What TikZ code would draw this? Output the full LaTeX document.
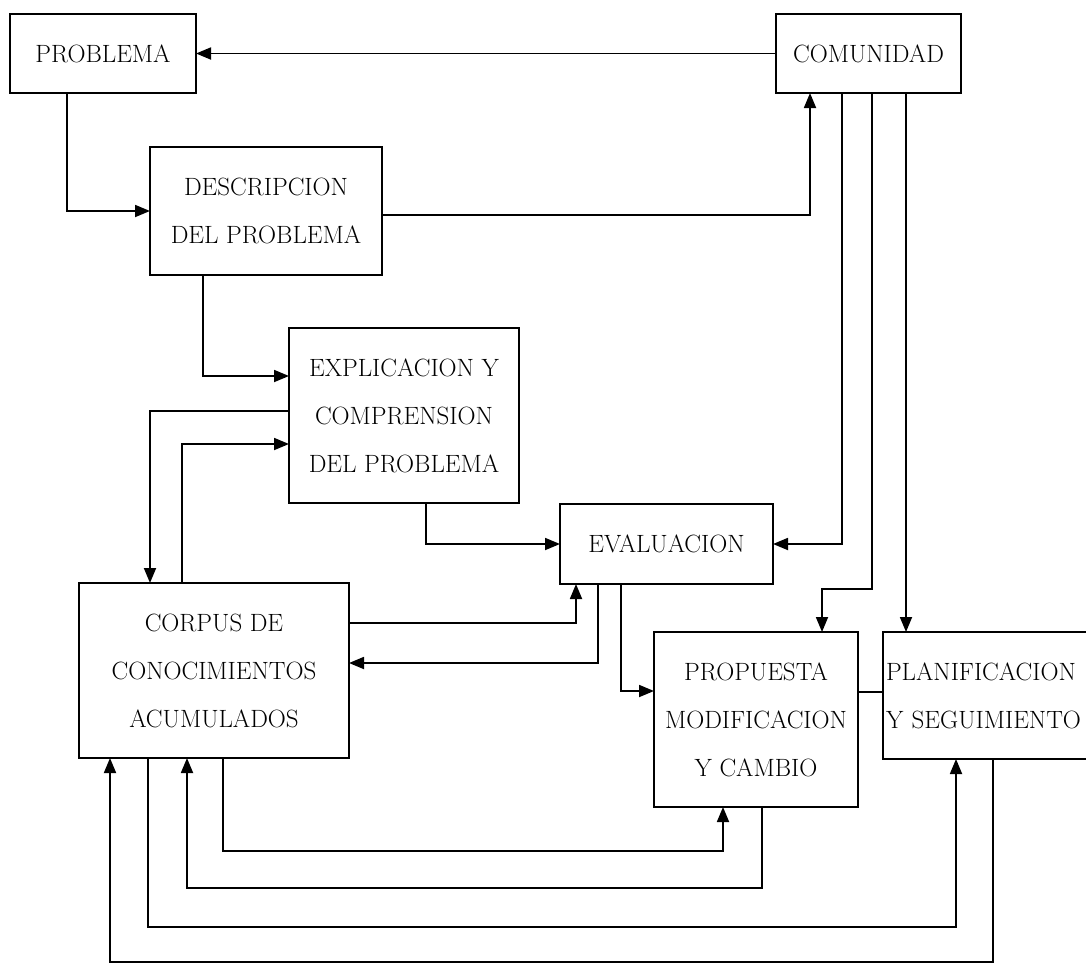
\documentclass[tikz,border=0pt]{standalone}
\usetikzlibrary{arrows.meta}
\begin{document}
\begin{tikzpicture}[x=1pt,y=-1pt,
  box/.style={draw, line width=2pt, inner sep=0pt, outer sep=0pt, align=center,
    font=\fontsize{25}{48}\selectfont},
  arr/.style={line width=1.8pt, -{Triangle[length=15pt,width=12pt]}},
  conn/.style={line width=1.8pt}]
\useasboundingbox (0,0) rectangle (1086,964);
\clip (0,0) rectangle (1086,964);

\node[box, minimum width=186pt, minimum height=79pt] (prob) at (103,53.5) {PROBLEMA};
\node[box, minimum width=185pt, minimum height=79pt] (comu) at (868.5,53.5) {COMUNIDAD};
\node[box, minimum width=232pt, minimum height=128pt] (desc) at (266,211) {DESCRIPCION\\DEL PROBLEMA};
\node[box, minimum width=230pt, minimum height=175pt] (expl) at (404,415.5) {EXPLICACION Y\\COMPRENSION\\DEL PROBLEMA};
\node[box, minimum width=213pt, minimum height=80pt] (eval) at (666.5,544) {EVALUACION};
\node[box, minimum width=270pt, minimum height=175pt] (corp) at (214,670.5) {CORPUS DE\\CONOCIMIENTOS\\ACUMULADOS};
\node[box, minimum width=204pt, minimum height=175pt] (prop) at (756,719.5) {PROPUESTA\\MODIFICACION\\Y CAMBIO};
\node[box, anchor=north west, align=left, inner xsep=3pt, text width=209pt, minimum height=127pt] (plan) at (883,632) {PLANIFICACION\\Y SEGUIMIENTO};

% top row
\draw[arr] (comu.west) -- (prob.east);
\draw[arr] ([xshift=-36pt]prob.south) |- (desc.west);
\draw[arr] ([yshift=-4pt]desc.east) -| ([xshift=-58.5pt]comu.south);
\draw[arr] ([xshift=-63pt]desc.south) |- ([yshift=39.5pt]expl.west);

% explicacion <-> corpus
\draw[arr] ([yshift=4.5pt]expl.west) -| ([xshift=-64pt]corp.north);
\draw[arr] ([xshift=-32pt]corp.north) |- ([yshift=-28.5pt]expl.west);

% evaluacion
\draw[arr] ([xshift=22pt]expl.south) |- (eval.west);
\draw[arr] ([xshift=-26.5pt]comu.south) |- (eval.east);
\draw[arr] ([yshift=47.5pt]corp.east) -| ([xshift=-90.5pt]eval.south);
\draw[arr] ([xshift=-68.5pt]eval.south) |- ([yshift=7.5pt]corp.east);
\draw[arr] ([xshift=-45.5pt]eval.south) |- ([yshift=28.5pt]prop.west);

% comunidad -> propuesta, planificacion
\draw[arr] ([xshift=3.5pt]comu.south) |- (822,589) -- ([xshift=66pt]prop.north);
\draw[arr] ([xshift=37.5pt]comu.south) -- ([xshift=37.5pt]comu.south |- plan.north);

% propuesta -- planificacion
\draw[conn] (prop.east |- 0,692) -- (plan.west |- 0,692);

% bottom loops
\draw[arr] ([xshift=9pt]corp.south) -- ++(0,93) -| ([xshift=-33pt]prop.south);
\draw[arr] ([xshift=6pt]prop.south) -- ++(0,81) -| ([xshift=-27pt]corp.south);
\draw[arr] ([xshift=-66pt]corp.south) -- ++(0,169) -| ([xshift=-34.5pt]plan.south);
\draw[arr] ([xshift=2.5pt]plan.south) -- ++(0,203) -| ([xshift=-104pt]corp.south);
\end{tikzpicture}
\end{document}
